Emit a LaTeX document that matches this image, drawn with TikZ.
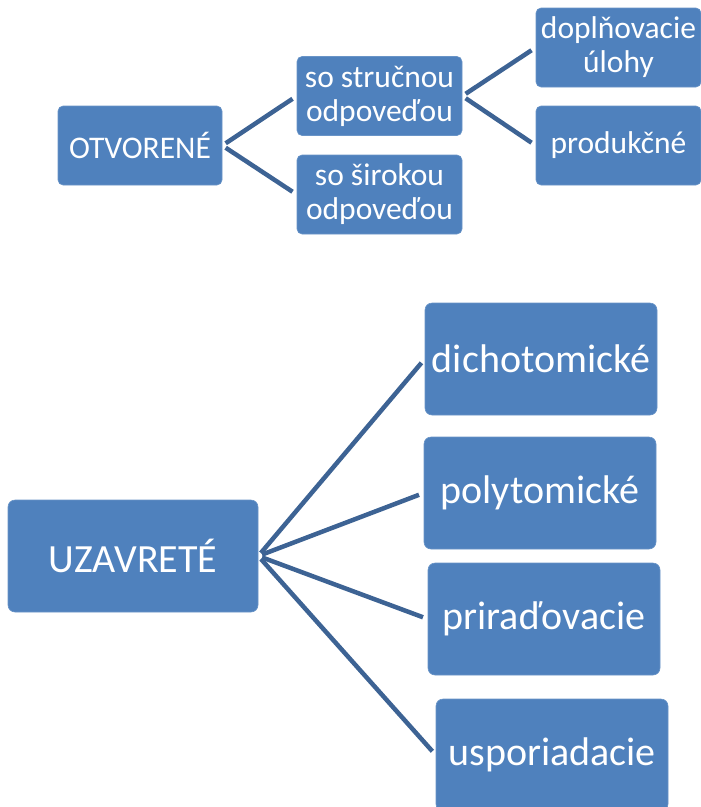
\documentclass[tikz,border=0pt]{standalone}
\usepackage{fontspec}
\setmainfont{Carlito}
\definecolor{boxblue}{HTML}{4F81BD}
\definecolor{lineblue}{HTML}{3D6394}
\begin{document}
\begin{tikzpicture}[x=1pt,y=-1pt,
  smallbox/.style={fill=boxblue, draw=boxblue!85!white, line width=0.6pt, rounded corners=5pt, text=white,
    minimum width=165pt, minimum height=79pt, inner sep=0pt, align=center,
    font=\fontsize{31.5}{34}\selectfont},
  bigbox/.style={fill=boxblue, draw=boxblue!85!white, line width=0.6pt, rounded corners=7pt, text=white,
    minimum width=232pt, minimum height=112pt, inner sep=0pt, align=center,
    font=\fontsize{40}{46}\selectfont},
  link/.style={draw=lineblue, line width=4.5pt, shorten <=4pt, shorten >=5pt}]
\useasboundingbox (0,0) rectangle (701,807);
% top tree
\node[smallbox, minimum width=164pt] (otv) at (140,145.5) {OTVORENÉ};
\node[smallbox] (str) at (379.5,96) {so stručnou\\odpoveďou};
\node[smallbox] (sir) at (379.5,194.5) {so širokou\\odpoveďou};
\node[smallbox] (dop) at (618.5,47.5) {doplňovacie\\úlohy};
\node[smallbox] (pro) at (618.5,145.5) {produkčné};
\draw[link] (otv.east) -- (str.west);
\draw[link] (otv.east) -- (sir.west);
\draw[link] (str.east) -- (dop.west);
\draw[link] (str.east) -- (pro.west);
% bottom tree
\node[bigbox, minimum width=250pt] (uza) at (133,556) {UZAVRETÉ};
\node[bigbox] (dich) at (541,359) {dichotomické};
\node[bigbox] (poly) at (540,493) {polytomické};
\node[bigbox] (prir) at (544,619) {priraďovacie};
\node[bigbox] (uspo) at (552,755) {usporiadacie};
\draw[link] (uza.east) -- (dich.west);
\draw[link] (uza.east) -- (poly.west);
\draw[link] (uza.east) -- (prir.west);
\draw[link] (uza.east) -- (uspo.west);
\end{tikzpicture}
\end{document}
